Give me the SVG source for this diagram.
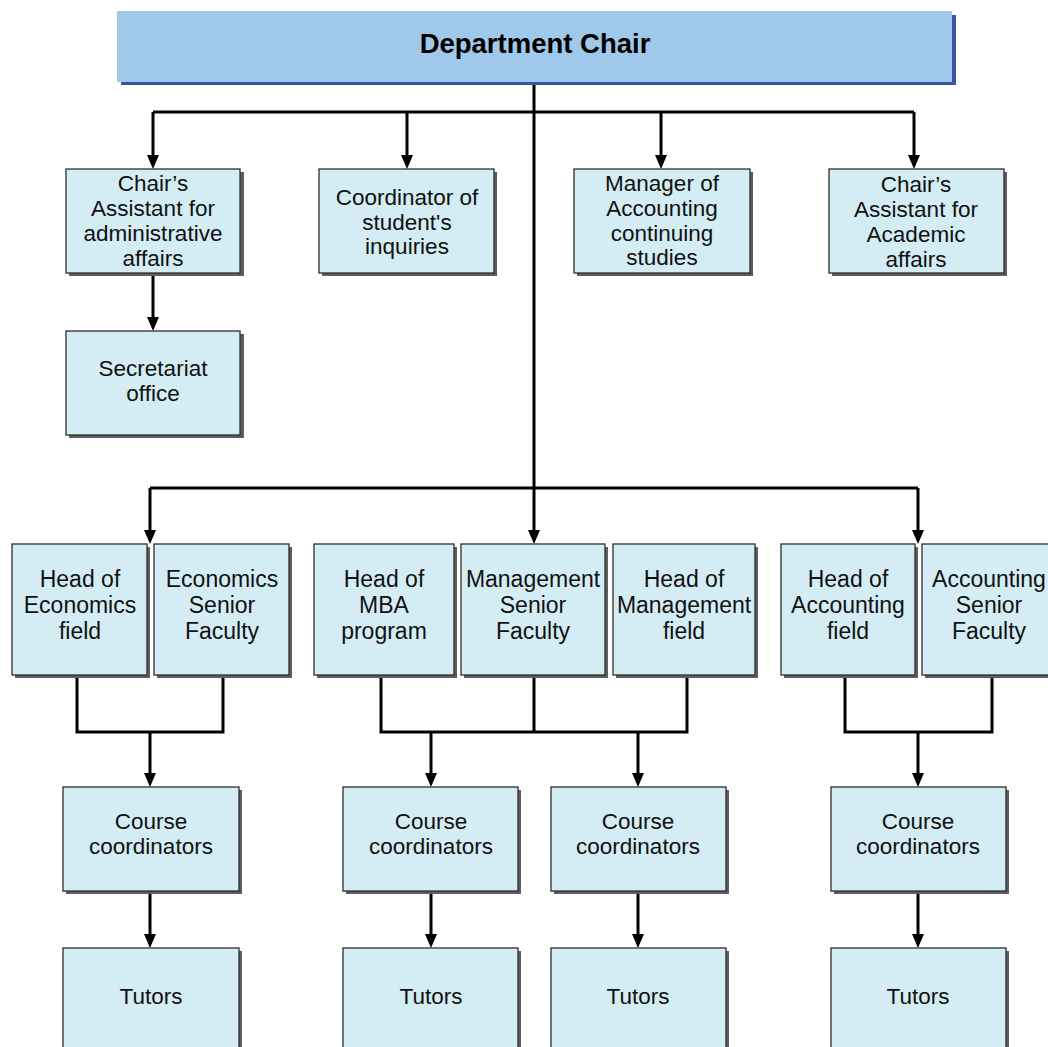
<svg xmlns="http://www.w3.org/2000/svg" width="1048" height="1047" viewBox="0 0 1048 1047">
<style>
.sh{fill:#5e5e5e}
.bx{fill:#d4ecf3;stroke:#2e2e2e;stroke-width:1.3}
.t{font-family:"Liberation Sans",Arial,sans-serif;font-size:22.5px;fill:#111;text-anchor:middle}
.t3{font-size:23px}
.c{fill:none;stroke:#000;stroke-width:3}
</style>
<defs>
<marker id="ah" markerUnits="userSpaceOnUse" markerWidth="16" markerHeight="14" viewBox="0 -7 16 14" refX="10" refY="0" orient="auto">
<path d="M0,-6 L14,0 L0,6 z" fill="#000"/>
</marker>
</defs>
<rect width="1048" height="1047" fill="#fff"/>

<g id="connectors">
<path class="c" d="M534,82 V540" marker-end="url(#ah)"/>
<path class="c" d="M153,112 H914"/>
<path class="c" d="M153,112 V165" marker-end="url(#ah)"/>
<path class="c" d="M407,112 V165" marker-end="url(#ah)"/>
<path class="c" d="M661,112 V165" marker-end="url(#ah)"/>
<path class="c" d="M914,112 V165" marker-end="url(#ah)"/>
<path class="c" d="M153,273 V327" marker-end="url(#ah)"/>
<path class="c" d="M150,488 H918"/>
<path class="c" d="M150,488 V540" marker-end="url(#ah)"/>
<path class="c" d="M918,488 V540" marker-end="url(#ah)"/>
<path class="c" d="M77,675 V732 H223 V675"/>
<path class="c" d="M150,732 V783" marker-end="url(#ah)"/>
<path class="c" d="M381,675 V732 H687 V675"/>
<path class="c" d="M534,675 V732"/>
<path class="c" d="M431,732 V783" marker-end="url(#ah)"/>
<path class="c" d="M638,732 V783" marker-end="url(#ah)"/>
<path class="c" d="M845,675 V732 H992 V675"/>
<path class="c" d="M918,732 V783" marker-end="url(#ah)"/>
<path class="c" d="M150,891 V944" marker-end="url(#ah)"/>
<path class="c" d="M431,891 V944" marker-end="url(#ah)"/>
<path class="c" d="M638,891 V944" marker-end="url(#ah)"/>
<path class="c" d="M918,891 V944" marker-end="url(#ah)"/>
</g>

<g id="chair">
<rect x="121" y="15" width="835" height="70" fill="#3a55a6"/>
<rect x="117" y="11" width="835" height="71" fill="#9fc8ea"/>
<text x="535" y="53" style="font-family:'Liberation Sans',Arial,sans-serif;font-size:27.5px;font-weight:bold;fill:#000;text-anchor:middle">Department Chair</text>
</g>

<g id="asst-admin">
<rect class="sh" x="69" y="172" width="175" height="104"/>
<rect class="bx" x="66" y="169" width="174" height="104"/>
<text class="t" x="153"><tspan x="153" y="191">Chair’s</tspan><tspan x="153" y="216">Assistant for</tspan><tspan x="153" y="241">administrative</tspan><tspan x="153" y="266">affairs</tspan></text>
</g>

<g id="coordinator">
<rect class="sh" x="322" y="172" width="175" height="104"/>
<rect class="bx" x="319" y="169" width="175" height="104"/>
<text class="t" x="407"><tspan x="407" y="205">Coordinator of</tspan><tspan x="407" y="229.5">student's</tspan><tspan x="407" y="254">inquiries</tspan></text>
</g>

<g id="manager">
<rect class="sh" x="577" y="172" width="176" height="104"/>
<rect class="bx" x="574" y="169" width="176" height="104"/>
<text class="t" x="662"><tspan x="662" y="191">Manager of</tspan><tspan x="662" y="216">Accounting</tspan><tspan x="662" y="241">continuing</tspan><tspan x="662" y="265">studies</tspan></text>
</g>

<g id="asst-academic">
<rect class="sh" x="832" y="172" width="175" height="104"/>
<rect class="bx" x="829" y="169" width="175" height="104"/>
<text class="t" x="916"><tspan x="916" y="192">Chair’s</tspan><tspan x="916" y="217">Assistant for</tspan><tspan x="916" y="242">Academic</tspan><tspan x="916" y="267">affairs</tspan></text>
</g>

<g id="secretariat">
<rect class="sh" x="69" y="334" width="175" height="104"/>
<rect class="bx" x="66" y="331" width="174" height="104"/>
<text class="t" x="153"><tspan x="153" y="376">Secretariat</tspan><tspan x="153" y="401">office</tspan></text>
</g>

<g id="head-econ">
<rect class="sh" x="15" y="547" width="135" height="131"/>
<rect class="bx" x="12" y="544" width="135" height="131"/>
<text class="t t3" x="80"><tspan x="80" y="587">Head of</tspan><tspan x="80" y="613">Economics</tspan><tspan x="80" y="639">field</tspan></text>
</g>

<g id="econ-senior">
<rect class="sh" x="157" y="547" width="135" height="131"/>
<rect class="bx" x="154" y="544" width="135" height="131"/>
<text class="t t3" x="222"><tspan x="222" y="587">Economics</tspan><tspan x="222" y="613">Senior</tspan><tspan x="222" y="639">Faculty</tspan></text>
</g>

<g id="head-mba">
<rect class="sh" x="317" y="547" width="140" height="131"/>
<rect class="bx" x="314" y="544" width="140" height="131"/>
<text class="t t3" x="384"><tspan x="384" y="587">Head of</tspan><tspan x="384" y="613">MBA</tspan><tspan x="384" y="639">program</tspan></text>
</g>

<g id="mgmt-senior">
<rect class="sh" x="464" y="547" width="144" height="131"/>
<rect class="bx" x="461" y="544" width="144" height="131"/>
<text class="t t3" x="533"><tspan x="533" y="587">Management</tspan><tspan x="533" y="613">Senior</tspan><tspan x="533" y="639">Faculty</tspan></text>
</g>

<g id="head-mgmt">
<rect class="sh" x="616" y="547" width="142" height="131"/>
<rect class="bx" x="613" y="544" width="142" height="131"/>
<text class="t t3" x="684"><tspan x="684" y="587">Head of</tspan><tspan x="684" y="613">Management</tspan><tspan x="684" y="639">field</tspan></text>
</g>

<g id="head-acct">
<rect class="sh" x="784" y="547" width="134" height="131"/>
<rect class="bx" x="781" y="544" width="134" height="131"/>
<text class="t t3" x="848"><tspan x="848" y="587">Head of</tspan><tspan x="848" y="613">Accounting</tspan><tspan x="848" y="639">field</tspan></text>
</g>

<g id="acct-senior">
<rect class="sh" x="925" y="547" width="134" height="131"/>
<rect class="bx" x="922" y="544" width="134" height="131"/>
<text class="t t3" x="989"><tspan x="989" y="587">Accounting</tspan><tspan x="989" y="613">Senior</tspan><tspan x="989" y="639">Faculty</tspan></text>
</g>

<g id="course-econ">
<rect class="sh" x="66" y="790" width="176" height="104"/>
<rect class="bx" x="63" y="787" width="176" height="104"/>
<text class="t" x="151"><tspan x="151" y="829">Course</tspan><tspan x="151" y="854">coordinators</tspan></text>
</g>

<g id="course-mba">
<rect class="sh" x="346" y="790" width="175" height="104"/>
<rect class="bx" x="343" y="787" width="175" height="104"/>
<text class="t" x="431"><tspan x="431" y="829">Course</tspan><tspan x="431" y="854">coordinators</tspan></text>
</g>

<g id="course-mgmt">
<rect class="sh" x="554" y="790" width="175" height="104"/>
<rect class="bx" x="551" y="787" width="175" height="104"/>
<text class="t" x="638"><tspan x="638" y="829">Course</tspan><tspan x="638" y="854">coordinators</tspan></text>
</g>

<g id="course-acct">
<rect class="sh" x="834" y="790" width="175" height="104"/>
<rect class="bx" x="831" y="787" width="175" height="104"/>
<text class="t" x="918"><tspan x="918" y="829">Course</tspan><tspan x="918" y="854">coordinators</tspan></text>
</g>

<g id="tutors-econ">
<rect class="sh" x="66" y="951" width="176" height="110"/>
<rect class="bx" x="63" y="948" width="176" height="110"/>
<text class="t" x="151" y="1004">Tutors</text>
</g>

<g id="tutors-mba">
<rect class="sh" x="346" y="951" width="175" height="110"/>
<rect class="bx" x="343" y="948" width="175" height="110"/>
<text class="t" x="431" y="1004">Tutors</text>
</g>

<g id="tutors-mgmt">
<rect class="sh" x="554" y="951" width="175" height="110"/>
<rect class="bx" x="551" y="948" width="175" height="110"/>
<text class="t" x="638" y="1004">Tutors</text>
</g>

<g id="tutors-acct">
<rect class="sh" x="834" y="951" width="175" height="110"/>
<rect class="bx" x="831" y="948" width="175" height="110"/>
<text class="t" x="918" y="1004">Tutors</text>
</g>
</svg>
